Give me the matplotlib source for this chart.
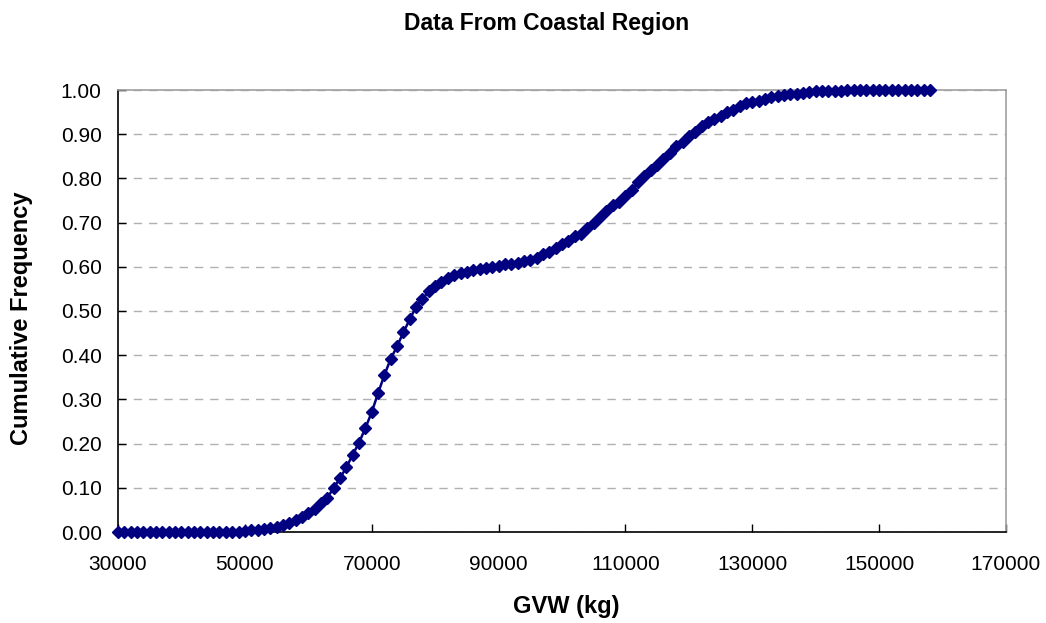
import matplotlib
matplotlib.use("Agg")
import matplotlib.pyplot as plt
import numpy as np

# GVW in kg (every 1000 kg from 30000 to 158000)
gvw = list(range(30000, 159000, 1000))
cum_freq = [
    0.000, 0.000, 0.000, 0.000, 0.000, 0.000, 0.000, 0.000, 0.000, 0.000,  # 30-39k
    0.000, 0.000, 0.000, 0.000, 0.000, 0.000, 0.000, 0.000, 0.000, 0.001,  # 40-49k
    0.003, 0.004, 0.005, 0.006, 0.008, 0.011, 0.015, 0.020, 0.027, 0.033,  # 50-59k
    0.042, 0.052, 0.066, 0.078, 0.099, 0.122, 0.146, 0.175, 0.202, 0.235,  # 60-69k
    0.271, 0.314, 0.355, 0.392, 0.420, 0.452, 0.481, 0.510, 0.527, 0.545,  # 70-79k
    0.556, 0.566, 0.575, 0.581, 0.585, 0.589, 0.592, 0.594, 0.597, 0.600,  # 80-89k
    0.602, 0.606, 0.606, 0.609, 0.614, 0.616, 0.621, 0.628, 0.633, 0.642,  # 90-99k
    0.651, 0.659, 0.669, 0.675, 0.688, 0.698, 0.712, 0.726, 0.739, 0.746,  # 100-109k
    0.760, 0.774, 0.792, 0.806, 0.820, 0.830, 0.844, 0.858, 0.874, 0.882,  # 110-119k
    0.895, 0.904, 0.918, 0.927, 0.934, 0.942, 0.950, 0.955, 0.964, 0.970,  # 120-129k
    0.973, 0.975, 0.979, 0.984, 0.987, 0.988, 0.990, 0.991, 0.994, 0.996,  # 130-139k
    0.997, 0.997, 0.997, 0.998, 0.998, 0.999, 1.000, 1.000, 1.000, 1.000,  # 140-149k
    1.000, 1.000, 1.000, 1.000, 1.000, 1.000, 1.000, 1.000, 1.000,         # 150-158k
]

x_ticks = [30000, 50000, 70000, 90000, 110000, 130000, 150000, 170000]
y_ticks = [0.0, 0.1, 0.2, 0.3, 0.4, 0.5, 0.6, 0.7, 0.8, 0.9, 1.0]

title = 'Data From Coastal Region'
x_label = 'GVW (kg)'
y_label = 'Cumulative Frequency'

plt.rcParams['font.family'] = ['Liberation Sans', 'DejaVu Sans']

W, H = 1046, 623
fig = plt.figure(figsize=(W / 100, H / 100), dpi=100)
ax = fig.add_axes([118 / W, (H - 532) / H, 888 / W, 442 / H])

ax.plot(gvw, cum_freq, color='#000080', linewidth=1.8, marker='D',
        markersize=6.3, markeredgecolor='#000080', markerfacecolor='#000080',
        zorder=3, clip_on=False)

ax.set_xlim(30000, 170000)
ax.set_ylim(0, 1.0)
ax.set_xticks(x_ticks)
ax.set_xticklabels([str(v) for v in x_ticks])
ax.set_yticks(y_ticks)
ax.set_yticklabels([f"{v:.2f}" for v in y_ticks])

ax.yaxis.grid(True, linestyle=(0, (6, 5)), color='#b0b0b0', linewidth=1)
ax.set_axisbelow(True)

for side in ['top', 'right']:
    ax.spines[side].set_color('#a0a0a0')
    ax.spines[side].set_linewidth(1.2)
for side in ['left', 'bottom']:
    ax.spines[side].set_color('black')
    ax.spines[side].set_linewidth(1.2)

ax.tick_params(axis='both', direction='in', length=6, width=1, labelsize=15,
               colors='black')
ax.tick_params(axis='x', pad=16.5)
ax.tick_params(axis='y', pad=11.7)

fig.text(547 / W, 1 - 30 / H, title, fontsize=16.5, fontweight='bold',
         ha='center', va='baseline')
fig.text(566.5 / W, 1 - 613 / H, x_label, fontsize=17, fontweight='bold',
         ha='center', va='baseline')
fig.text(28 / W, 1 - 318 / H, y_label, fontsize=17, fontweight='bold',
         ha='center', va='baseline', rotation=90, rotation_mode='anchor')

fig.savefig('out.png', dpi=100)
